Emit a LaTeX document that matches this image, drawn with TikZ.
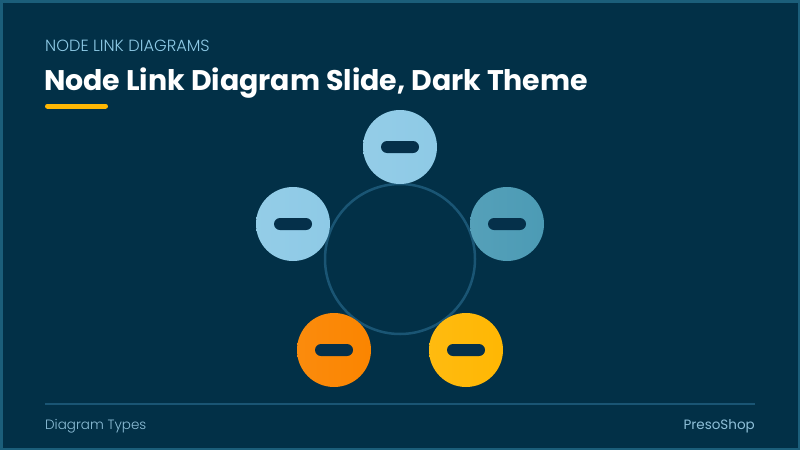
\documentclass[tikz,border=0pt]{standalone}
\usepackage{fontspec}
\setmainfont{Poppins}
\newfontfamily\popbold{Poppins}[UprightFont=* Bold]
\newfontfamily\poplight{Poppins}[UprightFont=* Light]
\usetikzlibrary{shapes.misc}
\definecolor{bg}{HTML}{023047}
\definecolor{frame}{HTML}{1B5E7A}
\definecolor{ringc}{HTML}{1A5574}
\definecolor{lblue}{HTML}{8ECAE6}
\definecolor{mblue}{HTML}{4C9BB5}
\definecolor{orng}{HTML}{FB8500}
\definecolor{yell}{HTML}{FFB703}
\definecolor{pillc}{HTML}{05304A}
\definecolor{foot}{HTML}{8EBFD8}
\tikzset{
  x=1pt,y=-1pt,
  sat/.style={circle,minimum size=74pt,inner sep=0pt},
  pill/.style={rounded rectangle,fill=pillc,minimum width=38pt,minimum height=12pt,inner sep=0pt},
  ringst/.style={circle,draw=ringc,line width=2.5pt,minimum size=150pt,inner sep=0pt},
}
\begin{document}
\begin{tikzpicture}
\useasboundingbox (0,0) rectangle (800,450);
\fill[frame] (0,0) rectangle (800,450);
\fill[bg] (2.5,2.5) rectangle (797.5,447.5);
% header
\node[anchor=base west,inner sep=0pt,text=lblue,font=\poplight\fontsize{16.2}{18}\selectfont] (sub) at (45,51) {NODE LINK DIAGRAMS};
\node[anchor=base west,inner sep=0pt,text=white,font=\popbold\fontsize{28.4}{32}\selectfont] (title) at (44,90) {Node Link Diagram Slide, Dark Theme};
\draw[yell,line width=5pt,line cap=round] (47.5,106) -- (105.5,106);
% ring
\node[ringst] (ring) at (400,259) {};
% satellites
\node[sat,left color=lblue!95!white,right color=lblue] (top) at (400,147) {};
\node[sat,left color=lblue!95!white,right color=lblue] (left) at (293,224) {};
\node[sat,left color=mblue!95!white,right color=mblue] (right) at (507,224) {};
\node[sat,left color=orng!95!white,right color=orng] (bl) at (334,350) {};
\node[sat,left color=yell!95!white,right color=yell] (br) at (466,350) {};
\node[pill] (ptop) at (top) {};
\node[pill] (pleft) at (left) {};
\node[pill] (pright) at (right) {};
\node[pill] (pbl) at (bl) {};
\node[pill] (pbr) at (br) {};
% footer
\draw[ringc,line width=1.5pt] (45,404) -- (755,404);
\node[anchor=base west,inner sep=0pt,text=foot,font=\poplight\fontsize{13.5}{15}\selectfont] (ft1) at (45,429) {Diagram Types};
\node[anchor=base east,inner sep=0pt,text=foot,font=\fontsize{13.5}{15}\selectfont] (ft2) at (755,429) {PresoShop};
\end{tikzpicture}
\end{document}
